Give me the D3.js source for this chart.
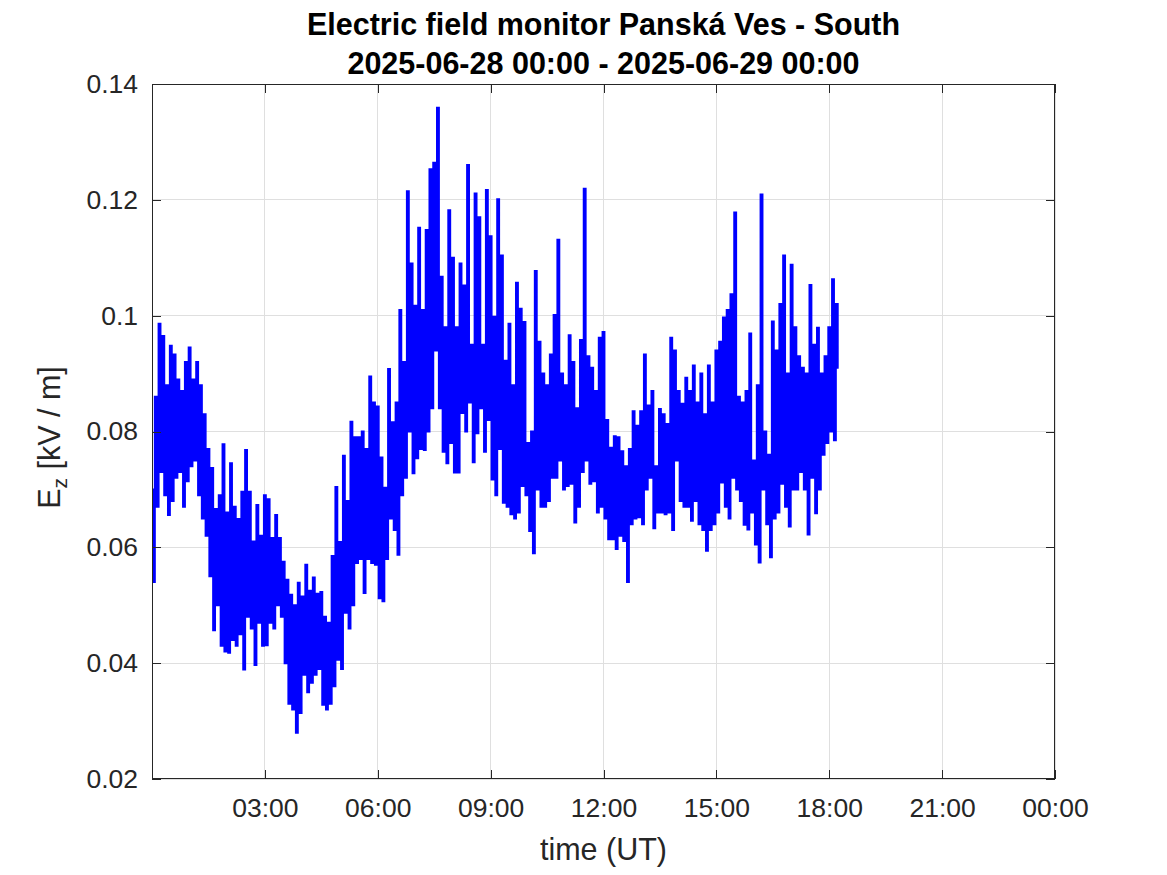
<!DOCTYPE html>
<html><head><meta charset="utf-8">
<script src="https://cdn.jsdelivr.net/npm/d3@7/dist/d3.min.js"></script>
<style>body{margin:0;background:#fff}text{font-family:"Liberation Sans",Arial,Helvetica,sans-serif}</style>
</head><body><svg id="c" width="1167" height="875"></svg>
<script>
// ---- data ----
const titleLines = ["Electric field monitor Panská Ves - South", "2025-06-28 00:00 - 2025-06-29 00:00"];
const startTime = "2025-06-28T00:00:00Z";
const endTime = "2025-06-29T00:00:00Z";
const sampleStepMinutes = 3;
// Ez [kV/m], one sample every 3 minutes from 00:00 UT
const ezValues = [
.070,.054,.086,.067,.0986,.073,.0965,.069,.088,.0656,.0948,.068,.0933,.072,.089,.073,.087,.067,.092,.0714,
.0945,.074,.089,.075,.092,.069,.088,.065,.083,.062,.077,.055,.0737,.0457,.0666,.050,.069,.043,.0778,.042,
.066,.0418,.0745,.044,.067,.043,.0649,.045,.0696,.0389,.0768,.048,.0696,.046,.061,.0397,.0673,.047,.062,.043,
.069,.0431,.0683,.047,.0616,.046,.0656,.050,.0616,.048,.0575,.040,.0544,.033,.0518,.032,.050,.028,
.0539,.0314,.0515,.038,.057,.035,.0525,.0366,.0548,.038,.052,.039,.0523,.0328,.048,.032,.047,.033,
.0585,.036,.0704,.0406,.0609,.039,.0758,.0487,.068,.046,.0817,.050,.079,.0573,.079,.058,.080,.0521,
.077,.058,.0895,.0573,.085,.057,.0843,.0512,.0755,.0507,.0703,.058,.0908,.065,.0816,.063,.085,.0587,
.101,.069,.092,.072,.1215,.080,.109,.0728,.1017,.0754,.1152,.077,.101,.0768,.1148,.080,.1253,.084,
.1264,.094,.1359,.084,.1067,.0765,.098,.0745,.1182,.078,.110,.0729,.098,.0729,.109,.0832,.1052,.080,
.126,.085,.095,.0747,.1211,.0797,.117,.084,.095,.0765,.1217,.082,.1137,.0717,.0998,.069,.1201,.077,
.1104,.0677,.0922,.067,.0986,.0657,.088,.065,.1057,.066,.1012,.0706,.0989,.069,.078,.0628,.080,.059,
.1077,.070,.0955,.067,.090,.067,.088,.068,.0933,.072,.1001,.072,.1131,.075,.090,.070,.088,.0706,
.0966,.071,.092,.0643,.084,.067,.0958,.073,.1219,.075,.093,.071,.091,.0714,.087,.066,.0962,.067,
.0972,.065,.082,.0614,.0772,.0614,.0792,.0597,.079,.062,.0766,.0611,.074,.054,.077,.064,.0835,.065,
.081,.0652,.0835,.064,.0933,.070,.0845,.072,.087,.0633,.074,.066,.0839,.066,.083,.0657,.0813,.066,
.0962,.063,.094,.075,.087,.068,.0848,.067,.0893,.067,.087,.0646,.0914,.068,.085,.064,.090,.063,
.083,.0594,.0914,.063,.085,.064,.094,.066,.0955,.0712,.0997,.067,.101,.065,.1037,.072,.1178,.070,
.086,.068,.085,.0639,.087,.0631,.0969,.066,.075,.0605,.088,.0574,.1209,.070,.080,.064,.076,.0583,
.099,.065,.094,.066,.102,.071,.1104,.067,.090,.0636,.1088,.070,.098,.070,.093,.073,.091,.070,
.090,.0622,.1053,.072,.095,.0659,.0979,.070,.090,.076,.093,.078,.098,.080,.1063,.0785,.102,.091
];
const yTicks = [0.02, 0.04, 0.06, 0.08, 0.10, 0.12, 0.14];
const yTickLabels = ["0.02", "0.04", "0.06", "0.08", "0.1", "0.12", "0.14"];
const xTickHours = [0, 3, 6, 9, 12, 15, 18, 21, 24];
const xTickLabels = ["", "03:00", "06:00", "09:00", "12:00", "15:00", "18:00", "21:00", "00:00"];
const xLabel = "time (UT)";

// ---- layout ----
const W = 1167, H = 875;
const m = {left: 152, top: 84, right: 1055, bottom: 779};
const ink = "#262626", gridColor = "#dfdfdf", tickLen = 9;
const tickFont = 26.5, labelFont = 30.5, titleFont = 30.5;

const svg = d3.select("#c");
svg.append("rect").attr("width", W).attr("height", H).attr("fill", "#fff");

const t0 = new Date(startTime), t1 = new Date(endTime);
const x = d3.scaleUtc().domain([t0, t1]).range([m.left, m.right]);
const y = d3.scaleLinear().domain([0.02, 0.14]).range([m.bottom, m.top]);
const xTickDates = xTickHours.map(h => new Date(t0.getTime() + h * 3600e3));
const data = ezValues.map((v, i) => ({t: new Date(t0.getTime() + i * sampleStepMinutes * 60e3), v}));

// grid
const g = svg.append("g");
g.selectAll(".gx").data(xTickDates).join("line")
  .attr("x1", d => x(d)).attr("x2", d => x(d)).attr("y1", m.top).attr("y2", m.bottom)
  .attr("stroke", gridColor).attr("stroke-width", 1).attr("shape-rendering", "crispEdges");
g.selectAll(".gy").data(yTicks).join("line")
  .attr("x1", m.left).attr("x2", m.right).attr("y1", d => y(d)).attr("y2", d => y(d))
  .attr("stroke", gridColor).attr("stroke-width", 1).attr("shape-rendering", "crispEdges");

// data line
svg.append("clipPath").attr("id", "clip").append("rect")
  .attr("x", m.left).attr("y", m.top).attr("width", m.right - m.left).attr("height", m.bottom - m.top);
svg.append("path").datum(data)
  .attr("clip-path", "url(#clip)")
  .attr("fill", "none").attr("stroke", "#0000ff").attr("stroke-width", 2)
  .attr("stroke-linejoin", "miter")
  .attr("d", d3.line().curve(d3.curveStep).x(d => x(d.t)).y(d => y(d.v)));

// axes
function styleAxis(sel) {
  sel.select(".domain").remove();
  sel.selectAll(".tick line").attr("stroke", ink).attr("shape-rendering", "crispEdges");
  sel.selectAll(".tick text").attr("fill", ink).attr("font-size", tickFont)
     .attr("font-family", '"Liberation Sans",Arial,sans-serif');
}
svg.append("g").attr("transform", `translate(0,${m.bottom})`)
  .call(d3.axisBottom(x).tickValues(xTickDates).tickSize(-tickLen).tickPadding(19)
        .tickFormat((d, i) => xTickLabels[i]))
  .call(styleAxis);
svg.append("g").attr("transform", `translate(0,${m.top})`)
  .call(d3.axisTop(x).tickValues(xTickDates).tickSize(-tickLen).tickFormat(""))
  .call(styleAxis);
svg.append("g").attr("transform", `translate(${m.left},0)`)
  .call(d3.axisLeft(y).tickValues(yTicks).tickSize(-tickLen).tickPadding(14)
        .tickFormat((d, i) => yTickLabels[i]))
  .call(styleAxis);
svg.append("g").attr("transform", `translate(${m.right},0)`)
  .call(d3.axisRight(y).tickValues(yTicks).tickSize(-tickLen).tickFormat(""))
  .call(styleAxis);

// box
svg.append("rect").attr("x", m.left + 0.5).attr("y", m.top + 0.5)
  .attr("width", m.right - m.left - 1).attr("height", m.bottom - m.top - 1)
  .attr("fill", "none").attr("stroke", ink).attr("stroke-width", 1);

// labels
const cx = (m.left + m.right) / 2;
svg.append("text").attr("x", cx).attr("y", 860).attr("text-anchor", "middle")
  .attr("font-size", labelFont).attr("fill", ink).text(xLabel);
const yl = svg.append("text").attr("transform", `translate(60,${(m.top + m.bottom) / 2 + 6}) rotate(-90)`)
  .attr("text-anchor", "middle").attr("font-size", labelFont).attr("fill", ink);
yl.append("tspan").text("E");
yl.append("tspan").attr("font-size", 21).attr("dy", 7).text("z");
yl.append("tspan").attr("dy", -7).text(" [kV / m]");

// title
svg.append("text").attr("x", cx).attr("y", 35).attr("text-anchor", "middle")
  .attr("font-size", titleFont).attr("font-weight", "bold").attr("fill", "#000").text(titleLines[0]);
svg.append("text").attr("x", cx).attr("y", 74).attr("text-anchor", "middle")
  .attr("font-size", titleFont).attr("font-weight", "bold").attr("fill", "#000").text(titleLines[1]);
</script>
</body></html>
